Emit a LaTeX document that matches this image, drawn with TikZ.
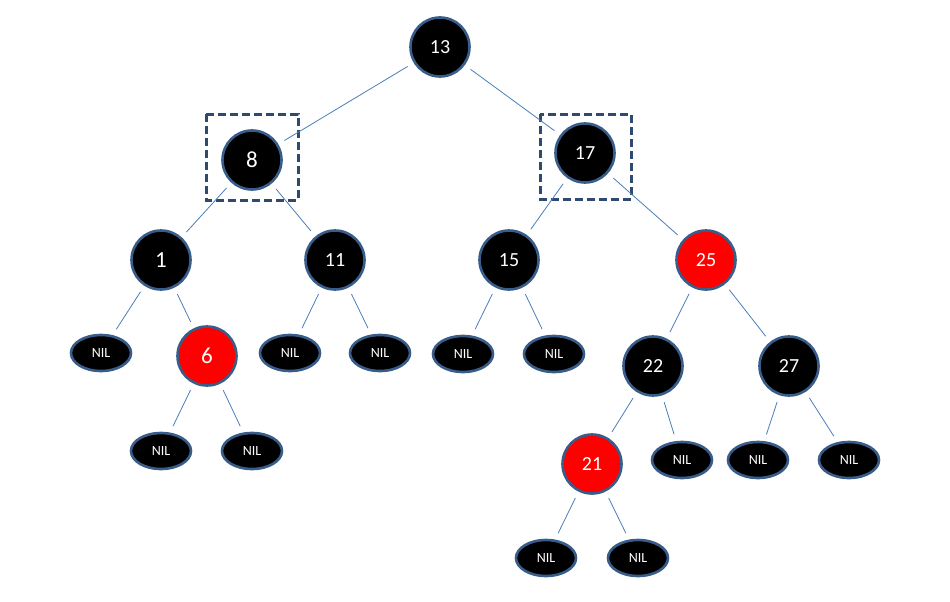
\documentclass[tikz,border=0pt]{standalone}
\usepackage{fontspec}
\setmainfont{Carlito}
\usetikzlibrary{shapes.geometric}
\definecolor{edgeblue}{HTML}{4A7EBB}
\definecolor{rim}{HTML}{385D8A}
\definecolor{boxc}{HTML}{2E4A6E}
\definecolor{rbred}{HTML}{FF0000}
\tikzset{
  rb/.style={circle, draw=rim, line width=2.6pt, minimum size=59pt, inner sep=0pt, text=white, font=\fontsize{20}{20}\selectfont},
  blk/.style={rb, fill=black},
  redn/.style={rb, fill=rbred},
  big/.style={font=\fontsize{23}{23}\selectfont},
  nil/.style={ellipse, draw=rim, line width=2.6pt, minimum width=60pt, minimum height=36pt, inner sep=0pt, fill=black, text=white, font=\fontsize{14}{14}\selectfont},
  edge/.style={draw=edgeblue, line width=0.8pt, shorten <=7pt, shorten >=7pt},
  selbox/.style={draw=boxc, line width=3pt, dash pattern=on 8pt off 4pt}
}
\begin{document}
\begin{tikzpicture}[x=1pt,y=-1pt]
\useasboundingbox (0,0) rectangle (950,602);
% dashed boxes
\draw[selbox] (206,114) rectangle (298,200);
\draw[selbox] (540,114) rectangle (631,199);
% nodes
\node[blk] (n13) at (440,47) {13};
\node[blk,big] (n8) at (252,160) {8};
\node[blk] (n17) at (585,153) {17};
\node[blk,big] (n1) at (161,260) {1};
\node[blk] (n11) at (335,260) {11};
\node[blk] (n15) at (509,260) {15};
\node[redn] (n25) at (706,260) {25};
\node[nil] (l1) at (101,353) {NIL};
\node[redn,big] (n6) at (207,356) {6};
\node[nil] (l3) at (290,353) {NIL};
\node[nil] (l4) at (380,353) {NIL};
\node[nil] (l5) at (463,354) {NIL};
\node[nil] (l6) at (554,354) {NIL};
\node[blk] (n22) at (653,366) {22};
\node[blk] (n27) at (789,366) {27};
\node[nil] (l7) at (161,451) {NIL};
\node[nil] (l8) at (252,451) {NIL};
\node[redn] (n21) at (592,464) {21};
\node[nil] (l9) at (682,460) {NIL};
\node[nil] (l10) at (758,460) {NIL};
\node[nil] (l11) at (849,460) {NIL};
\node[nil] (l12) at (546,558) {NIL};
\node[nil] (l13) at (638,558) {NIL};
% edges
\draw[edge] (n13) -- (n8);
\draw[edge] (n13) -- (n17);
\draw[edge] (n8) -- (n1);
\draw[edge] (n8) -- (n11);
\draw[edge] (n17) -- (n15);
\draw[edge] (n17) -- (n25);
\draw[edge] (n1) -- (l1);
\draw[edge] (n1) -- (n6);
\draw[edge] (n11) -- (l3);
\draw[edge] (n11) -- (l4);
\draw[edge] (n15) -- (l5);
\draw[edge] (n15) -- (l6);
\draw[edge] (n25) -- (n22);
\draw[edge] (n25) -- (n27);
\draw[edge] (n6) -- (l7);
\draw[edge] (n6) -- (l8);
\draw[edge] (n22) -- (n21);
\draw[edge] (n22) -- (l9);
\draw[edge] (n27) -- (l10);
\draw[edge] (n27) -- (l11);
\draw[edge] (n21) -- (l12);
\draw[edge] (n21) -- (l13);
\end{tikzpicture}
\end{document}
